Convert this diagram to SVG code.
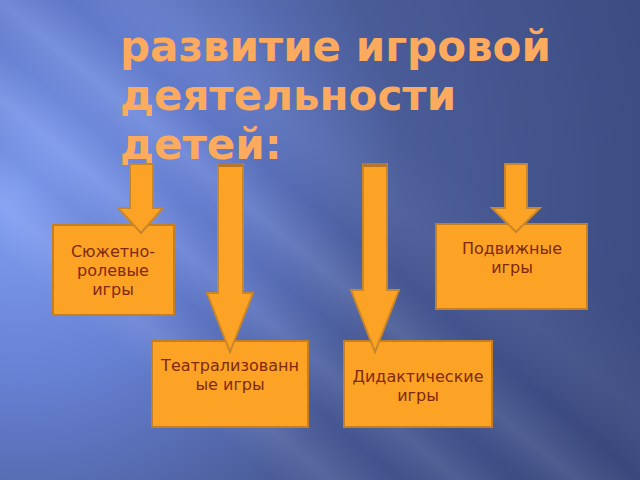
<svg xmlns="http://www.w3.org/2000/svg" width="640" height="480" viewBox="0 0 640 480">
<defs>
<radialGradient id="bg" gradientUnits="userSpaceOnUse" cx="20" cy="190" r="640">
<stop offset="0" stop-color="#82a0f4"/>
<stop offset="0.3" stop-color="#6680d2"/>
<stop offset="0.6" stop-color="#4a5c98"/>
<stop offset="1" stop-color="#3d4c82"/>
</radialGradient>
<linearGradient id="streak" gradientUnits="userSpaceOnUse" x1="0" y1="480" x2="400" y2="0">
<stop offset="0" stop-color="#ffffff" stop-opacity="0"/>
<stop offset="0.28" stop-color="#ffffff" stop-opacity="0"/>
<stop offset="0.34" stop-color="#ffffff" stop-opacity="0.08"/>
<stop offset="0.41" stop-color="#000030" stop-opacity="0.06"/>
<stop offset="0.47" stop-color="#ffffff" stop-opacity="0.07"/>
<stop offset="0.53" stop-color="#000030" stop-opacity="0.05"/>
<stop offset="0.59" stop-color="#ffffff" stop-opacity="0.08"/>
<stop offset="0.66" stop-color="#000030" stop-opacity="0.06"/>
<stop offset="0.74" stop-color="#ffffff" stop-opacity="0.04"/>
<stop offset="0.85" stop-color="#ffffff" stop-opacity="0"/>
<stop offset="1" stop-color="#ffffff" stop-opacity="0"/>
</linearGradient>
</defs>
<style>
.title{font-family:"DejaVu Sans","Noto Sans",sans-serif;font-weight:bold;font-size:42px;fill:#fbaa5e}
.box{fill:#fca326;stroke:#c47f22;stroke-width:2}
.arrow{fill:#fca326;stroke:#c8862a;stroke-width:2;stroke-linejoin:miter}
.cap{fill:#b7762a}
.lbl{font-family:"DejaVu Sans","Noto Sans",sans-serif;font-size:16px;fill:#7f2a0e;text-anchor:middle}
</style>
<rect width="640" height="480" fill="url(#bg)"/>
<rect id="streaks" width="640" height="480" fill="url(#streak)"/>
<g id="title">
<text class="title" x="120" y="61">развитие игровой</text>
<text class="title" x="120" y="110">деятельности</text>
<text class="title" x="120" y="159">детей:</text>
</g>
<g id="node-syuzhetno">
<rect class="box" x="53" y="225" width="121" height="90"/>
<text class="lbl" x="113" y="257">Сюжетно-</text>
<text class="lbl" x="113" y="276">ролевые</text>
<text class="lbl" x="113" y="295">игры</text>
</g>
<g id="node-podvizhnye">
<rect class="box" x="436" y="224" width="151" height="85"/>
<text class="lbl" x="512" y="254">Подвижные</text>
<text class="lbl" x="512" y="273">игры</text>
</g>
<g id="node-teatr">
<rect class="box" x="152" y="341" width="156" height="86"/>
<text class="lbl" x="230" y="371">Театрализованн</text>
<text class="lbl" x="230" y="390">ые игры</text>
</g>
<g id="node-didakt">
<rect class="box" x="344" y="341" width="148" height="86"/>
<text class="lbl" x="418" y="382">Дидактические</text>
<text class="lbl" x="418" y="401">игры</text>
</g>
<g id="connectors">
<polygon class="arrow" points="130,164 153,164 153,208 163,208 141,233 118,208 130,208"/>
<polygon class="arrow" points="218,164 243,164 243,293 253,293 230,352 207,293 218,293"/>
<rect class="cap" x="218" y="163" width="25" height="4"/>
<polygon class="arrow" points="363,164 387,164 387,290 399,290 375,352 351,290 363,290"/>
<rect class="cap" x="363" y="163" width="24" height="4"/>
<polygon class="arrow" points="505,164 527,164 527,208 540,208 516,232 492,208 505,208"/>
</g>
</svg>
